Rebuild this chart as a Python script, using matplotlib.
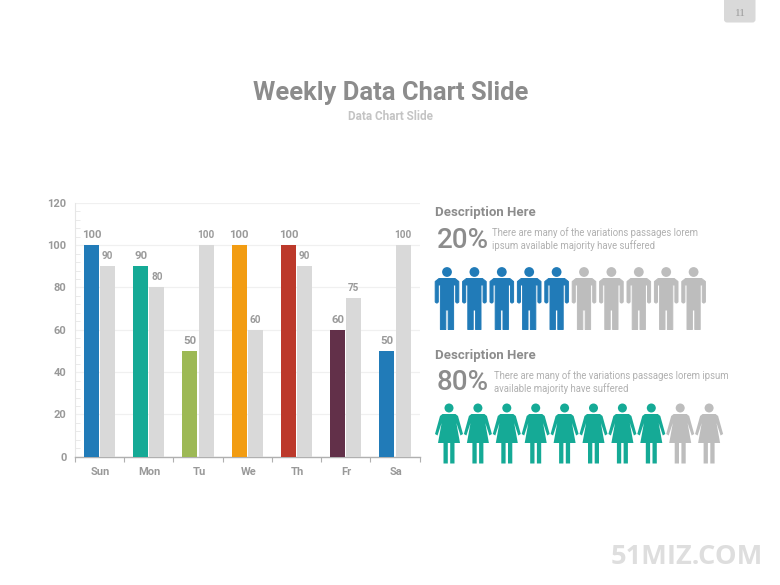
import matplotlib
matplotlib.use("Agg")
import matplotlib.pyplot as plt
from matplotlib.patches import Circle, Polygon, FancyBboxPatch
from matplotlib.transforms import ScaledTranslation

days = ["Sun", "Mon", "Tu", "We", "Th", "Fr", "Sa"]
primary = [100, 90, 50, 100, 100, 60, 50]
secondary = [90, 80, 100, 60, 90, 75, 100]
bar_colors = ["#217BB8", "#15AA96", "#9DB955", "#F29C12", "#BC392B", "#623049", "#217BB8"]
men_filled = 5
women_filled = 8
icons_total = 10

W, H = 780, 585
plt.rcParams["font.family"] = ["Roboto", "DejaVu Sans"]
fig = plt.figure(figsize=(W / 100, H / 100), dpi=100, facecolor="white")

# overlay in pixel coordinates
ov = fig.add_axes([0, 0, 1, 1])
ov.set_xlim(0, W); ov.set_ylim(H, 0); ov.axis("off")

GT = "#8C8C8C"
ov.text(390.5, 93, "Weekly Data Chart Slide", ha="center", va="center", fontsize=18.4, fontweight="bold", color=GT)
ov.text(390.5, 116, "Data Chart Slide", ha="center", va="center", fontsize=8.5, fontweight="bold", color="#C4C4C4")

ov.add_patch(FancyBboxPatch((724, -6), 31.5, 28.5, boxstyle="round,pad=0,rounding_size=3", fc="#D9D9D9", ec="none"))
ov.text(740, 13, "11", ha="center", va="center", fontsize=8, color="#9A9A9A", family="Liberation Serif")
ov.text(687, 557.5, "51MIZ.COM", ha="center", va="center", fontsize=19.6, fontweight="bold", color="#DEDEDE", family="Open Sans")

def man(cx, color):
    ov.add_patch(Circle((cx, 272), 4.9, fc=color, ec="none"))
    pts = [(-8, 278.5), (8, 278.5), (11.8, 281.5), (11.8, 302), (10.6, 303), (9.7, 303), (8.7, 302),
           (8.7, 285), (6.6, 285), (6.6, 329.5), (1.2, 329.5), (1.2, 310), (-1.2, 310), (-1.2, 329.5), (-6.6, 329.5),
           (-6.6, 285), (-8.7, 285), (-8.7, 302), (-9.7, 303), (-10.6, 303), (-11.8, 302), (-11.8, 281.5)]
    ov.add_patch(Polygon([(cx + x, y) for x, y in pts], closed=True, fc=color, ec=color, lw=0.7, joinstyle="round"))

def woman(cx, color):
    ov.add_patch(Circle((cx, 408), 4.5, fc=color, ec="none"))
    ov.add_patch(Polygon([(cx + x, y) for x, y in [
        (-6.5, 414), (6.5, 414), (9, 416), (14, 434), (11.5, 435.5), (7.4, 423), (11, 443), (5.5, 443),
        (5.5, 463.5), (1.2, 463.5), (1.2, 443), (-1.2, 443), (-1.2, 463.5), (-5.5, 463.5), (-5.5, 443),
        (-11, 443), (-7.4, 423), (-11.5, 435.5), (-14, 434), (-9, 416)]],
        closed=True, fc=color, ec="none"))

for i in range(icons_total):
    man(447 + 27.4 * i, "#217BB8" if i < men_filled else "#BDBDBD")
    woman(449 + 28.9 * i, "#15AA96" if i < women_filled else "#BDBDBD")

for y, big, bx, tx, l1, l2 in [
    (212, "20%", 436.5, 491.5, "There are many of the variations passages lorem", "ipsum available majority have suffered"),
    (355, "80%", 436.5, 494, "There are many of the variations passages lorem ipsum", "available majority have suffered"),
]:
    ov.text(435, y + 0.5, "Description Here", ha="left", va="center", fontsize=9.5, fontweight="bold", color=GT)
    ov.text(bx, y + 28, big, ha="left", va="center", fontsize=20, fontweight="medium", color=GT)
    ov.text(tx, y + 21, l1, ha="left", va="center", fontsize=6.85, color="#B0B0B0")
    ov.text(tx, y + 34, l2, ha="left", va="center", fontsize=6.85, color="#B0B0B0")

# chart
x0, x1, y0, y1 = 75, 419.5, 456.8, 202.8
ax = fig.add_axes([x0 / W, 1 - y0 / H, (x1 - x0) / W, (y0 - y1) / H], facecolor="none")
ax.set_xlim(-0.5, 6.5); ax.set_ylim(0, 120)
bw = 0.305; off = 0.165
xs = list(range(len(days)))
ax.bar([x - off for x in xs], primary, bw, color=bar_colors, zorder=3)
ax.bar([x + off for x in xs], secondary, bw, color="#D9D9D9", zorder=3)
for x, a, b in zip(xs, primary, secondary):
    ax.annotate(str(a), (x - off, a), xytext=(0, 3.6), textcoords="offset points", ha="center", va="bottom",
                fontsize=8.2, fontweight="bold", color="#9A9A9A")
    ax.annotate(str(b), (x + off, b), xytext=(0, 3.6), textcoords="offset points", ha="center", va="bottom",
                fontsize=7.2, fontweight="bold", color="#9A9A9A")
ax.set_yticks(range(0, 121, 20))
ax.set_yticks(range(0, 121, 4), minor=True)
ax.set_xticks([x - 0.5 for x in xs] + [6.5])
ax.set_xticklabels([])
ax.set_xticks(xs, days, minor=True)
ax.grid(axis="y", which="major", color="#F0F0F0", lw=0.9, zorder=0)
ax.tick_params(axis="y", which="major", length=0, labelsize=8, labelcolor="#999999", pad=6)
ax.tick_params(axis="y", which="minor", length=3.5, width=0.6, color="#E6E6E6", direction="in")
for lbl in ax.get_yticklabels():
    lbl.set_fontweight("bold")
ax.tick_params(axis="x", which="major", length=3.5, width=0.8, color="#B0B0B0")
ax.tick_params(axis="x", which="minor", length=0, labelsize=8, labelcolor="#999999", pad=7)
shift = ScaledTranslation(1.0 / 100, 0, fig.dpi_scale_trans)
for lbl in ax.get_xticklabels(minor=True):
    lbl.set_fontweight("bold")
    lbl.set_transform(lbl.get_transform() + shift)
for s in ["top", "right"]:
    ax.spines[s].set_visible(False)
ax.spines["left"].set_color("#E6E6E6"); ax.spines["left"].set_linewidth(0.8)
ax.spines["bottom"].set_color("#B0B0B0"); ax.spines["bottom"].set_linewidth(1)

fig.savefig("out.png", dpi=100, facecolor="white")
